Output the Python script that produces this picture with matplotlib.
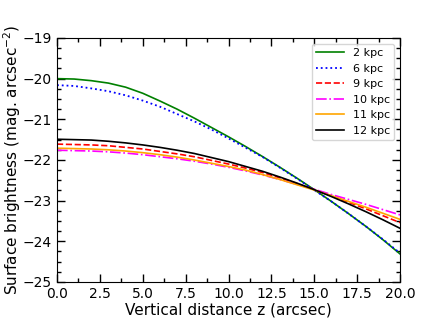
import matplotlib
matplotlib.use("Agg")
import matplotlib.pyplot as plt
from matplotlib.ticker import MultipleLocator

z = list(range(0, 21))

sb_2kpc = [-20.00, -20.01, -20.05, -20.11, -20.21, -20.36, -20.55, -20.75, -20.97, -21.20,
           -21.43, -21.67, -21.92, -22.18, -22.45, -22.73, -23.02, -23.32, -23.63, -23.96, -24.31]
sb_6kpc = [-20.16, -20.18, -20.24, -20.31, -20.41, -20.54, -20.69, -20.87, -21.05, -21.25,
           -21.47, -21.70, -21.93, -22.19, -22.46, -22.74, -23.02, -23.32, -23.63, -23.95, -24.29]
sb_9kpc = [-21.61, -21.62, -21.63, -21.65, -21.69, -21.73, -21.79, -21.85, -21.92, -22.01,
           -22.10, -22.20, -22.31, -22.44, -22.58, -22.73, -22.88, -23.04, -23.20, -23.37, -23.54]
sb_10kpc = [-21.76, -21.77, -21.78, -21.80, -21.83, -21.87, -21.92, -21.97, -22.03, -22.10,
            -22.18, -22.27, -22.37, -22.48, -22.60, -22.72, -22.85, -22.97, -23.09, -23.22, -23.35]
sb_11kpc = [-21.71, -21.72, -21.73, -21.75, -21.78, -21.82, -21.87, -21.93, -22.00, -22.08,
            -22.16, -22.25, -22.36, -22.48, -22.61, -22.74, -22.88, -23.02, -23.16, -23.31, -23.46]
sb_12kpc = [-21.49, -21.50, -21.51, -21.54, -21.58, -21.63, -21.69, -21.76, -21.84, -21.94,
            -22.04, -22.16, -22.28, -22.42, -22.57, -22.73, -22.90, -23.08, -23.27, -23.47, -23.68]

labels = ["2 kpc", "6 kpc", "9 kpc", "10 kpc", "11 kpc", "12 kpc"]

fig = plt.figure(figsize=(4.43, 3.19), dpi=100)
ax = fig.add_axes([0.1287, 0.116, 0.7743, 0.765])

ax.plot(z, sb_2kpc, color="green", ls="-", lw=1.2, label=labels[0])
ax.plot(z, sb_6kpc, color="blue", ls=":", lw=1.3, label=labels[1])
ax.plot(z, sb_9kpc, color="red", ls="--", lw=1.2, label=labels[2])
ax.plot(z, sb_10kpc, color="magenta", ls="-.", lw=1.2, label=labels[3])
ax.plot(z, sb_11kpc, color="orange", ls="-", lw=1.2, label=labels[4])
ax.plot(z, sb_12kpc, color="black", ls="-", lw=1.2, label=labels[5])

ax.set_xlim(0, 20)
ax.set_ylim(-25, -19)
ax.xaxis.set_major_locator(MultipleLocator(2.5))
ax.xaxis.set_minor_locator(MultipleLocator(1.25))
ax.yaxis.set_major_locator(MultipleLocator(1))
ax.yaxis.set_minor_locator(MultipleLocator(0.25))
ax.tick_params(which="both", direction="in", top=True, right=True, labelsize=10)
ax.tick_params(which="major", length=6, width=1)
ax.tick_params(which="minor", length=3, width=1)

ax.set_xlabel("Vertical distance z (arcsec)", fontsize=11, labelpad=1)
ax.set_ylabel("Surface brightness (mag. arcsec$^{-2}$)", fontsize=11, labelpad=0)

ax.legend(loc="upper right", fontsize=8, handlelength=2.5, framealpha=0.8)

fig.savefig("out.png", dpi=100)
